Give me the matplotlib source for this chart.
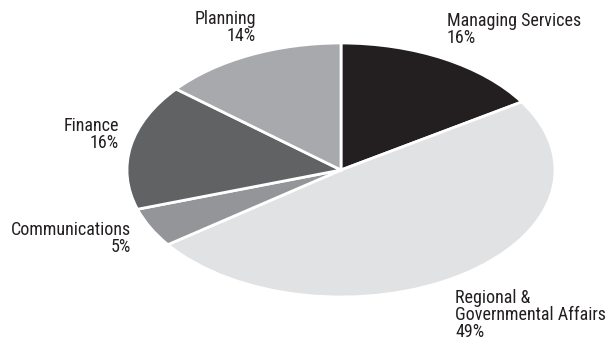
import matplotlib.pyplot as plt

# Budget share by department
departments = ['Managing Services', 'Regional &\nGovernmental Affairs',
               'Communications', 'Finance', 'Planning']
shares = [16, 49, 5, 16, 14]
colors = ['#231f20', '#e1e2e3', '#939598', '#616264', '#a7a9ac']

plt.rcParams['font.family'] = ['Roboto Condensed', 'DejaVu Sans']

W, H = 609, 347
fig = plt.figure(figsize=(W / 100, H / 100), dpi=100)

# pie centre and radii in pixels, the pie is squashed into an ellipse
cx, cy, rx, ry = 341, 170, 214, 127
ax = fig.add_axes([(cx - rx) / W, 1 - (cy + ry) / H, 2 * rx / W, 2 * ry / H])

wedges, _ = ax.pie(shares, colors=colors, startangle=90, counterclock=False,
                   wedgeprops=dict(edgecolor='white', linewidth=2))
ax.set_aspect('auto')
ax.set_xlim(-1, 1)
ax.set_ylim(-1, 1)
ax.axis('off')

# label anchors in pixels: (x, top y, horizontal alignment)
label_pos = [(447, 12, 'left'), (455, 289, 'left'), (131, 221, 'right'),
             (119, 117, 'right'), (256, 10, 'right')]
for name, val, (x, y, ha) in zip(departments, shares, label_pos):
    fig.text(x / W, 1 - y / H, f'{name}\n{val}%', ha=ha, va='top',
             fontsize=13, color='#231f20', linespacing=0.92)

fig.savefig('out.png', dpi=100)
